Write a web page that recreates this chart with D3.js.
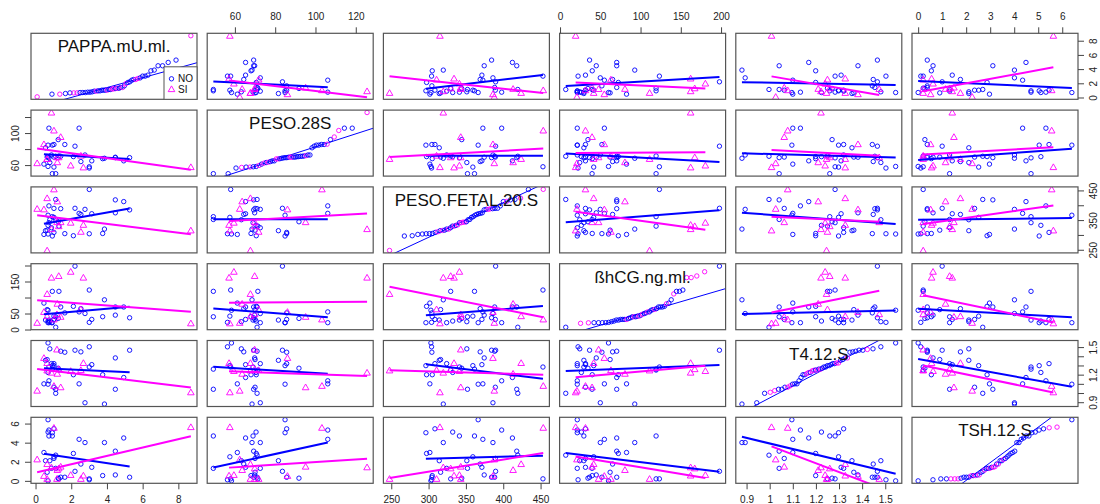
<!DOCTYPE html>
<html><head><meta charset="utf-8">
<script src="https://cdn.jsdelivr.net/npm/d3@7"></script>
<style>body{margin:0;background:#fff;} svg{display:block;font-family:"Liberation Sans",Arial,sans-serif;}</style>
</head><body><svg id="c" width="1100" height="504"></svg>
<script>
const varNames = ["PAPPA.mU.ml.","PESO.28S","PESO.FETAL.20.S","ßhCG.ng.ml.","T4.12.S","TSH.12.S"];
const groupLevels = ["NO","SI"];
const group = ["NO","NO","NO","NO","NO","NO","NO","NO","NO","NO","NO","NO","NO","NO","NO","NO","NO","NO","NO","NO","NO","NO","NO","NO","NO","NO","NO","NO","NO","NO","NO","NO","NO","NO","NO",
  "SI","SI","SI","SI","SI","SI","SI","SI","SI","SI","SI","SI","SI","SI"];
const pappa = [0.94,2.12,0.47,0.70,3.01,1.64,3.76,1.03,0.56,0.65,3.86,0.89,1.31,0.70,0.75,1.27,0.80,1.13,1.03,0.94,0.70,2.54,3.15,2.44,4.47,5.27,2.77,1.41,1.03,2.21,0.75,4.94,4.47,1.13,3.01,
  0.65,2.54,8.70,0.89,1.30,2.68,1.97,1.41,1.20,0.47,0.09,1.22,0.65,1.03];
const peso28 = [84.9,70.6,61.2,58.3,56.3,85.7,68.0,85.7,81.6,70.0,68.5,72.6,71.4,70.5,69.0,91.8,63.2,49.3,57.5,49.3,84.9,64.4,65.3,106.1,69.8,69.3,72.6,71.0,70.0,83.6,106.1,65.3,69.3,71.0,57.9,
  67.7,71.8,57.5,125.6,69.8,57.1,59.5,95.1,69.8,86.1,62.4,63.6,67.7,103.2];
const pesoFetal = [296.4,297.3,301.7,303.1,304.0,304.4,304.9,308.5,314.3,316.1,319.7,324.2,329.6,332.3,341.3,344.4,351.2,352.1,359.3,361.5,366.4,369.1,371.4,372.7,374.5,384.4,386.2,388.5,389.4,389.8,397.9,412.3,418.1,419.5,453.2,
  247.7,310.7,315.2,319.7,329.6,334.1,341.3,343.1,343.1,386.2,388.0,413.2,424.0,453.6];
const hcg = [21.4,72.4,82.6,60.2,22.4,52.0,40.0,31.6,29.6,62.2,92.8,21.4,119.3,26.5,29.6,34.7,24.5,39.8,41.8,119.3,21.4,65.3,31.6,55.1,45.0,36.7,50.0,70.4,31.6,198.0,21.4,70.4,70.4,7.1,123.4,
  111.2,63.2,19.4,162.2,167.3,162.2,180.5,39.8,47.9,55.0,21.0,80.6,41.8,31.6];
const t4 = [1.298,1.199,1.100,1.545,1.503,1.444,1.199,1.320,1.356,1.364,0.880,1.320,1.250,1.224,1.283,1.270,1.481,1.041,1.298,1.260,1.096,1.448,1.309,1.100,1.382,1.466,0.894,1.455,1.063,1.466,1.133,1.169,1.041,0.997,1.283,
  1.246,1.250,1.008,1.222,1.260,1.327,1.240,1.063,1.474,1.382,1.026,1.210,1.327,1.078];
const tsh = [5.04,2.87,2.97,0.00,0.11,0.38,0.55,5.45,2.11,0.90,4.01,1.31,0.21,5.11,4.70,0.28,2.11,1.31,2.52,4.70,6.40,1.76,1.42,4.35,0.62,0.38,4.01,0.38,2.35,1.00,5.32,4.49,3.11,2.69,0.21,
  0.21,0.21,5.63,1.42,1.31,0.56,0.62,1.49,0.21,0.52,2.25,1.14,1.76,5.56];

// axis ticks (value) and which are labelled
const topTicksPeso28 = [60,80,100,120];
const topTicksHcg = [0,50,100,150,200];
const topTicksTsh = [0,1,2,3,4,5,6];
const bottomTicksPappa = [0,2,4,6,8];
const bottomTicksPesoFetal = [250,300,350,400,450];
const bottomTicksT4 = [0.9,1.0,1.1,1.2,1.3,1.4,1.5];
const rightTicksPappa = [0,2,4,6,8];
const rightLabelsPappa = [0,2,4,6,8];
const rightTicksPesoFetal = [250,300,350,400,450];
const rightLabelsPesoFetal = [250,350,450];
const rightTicksT4 = [0.9,1.0,1.1,1.2,1.3,1.4,1.5];
const rightLabelsT4 = [0.9,1.2,1.5];
const leftTicksPeso28 = [60,80,100,120];
const leftLabelsPeso28 = [60,100];
const leftTicksHcg = [0,50,100,150,200];
const leftLabelsHcg = [0,50,150];
const leftTicksTsh = [0,2,4,6];
const leftLabelsTsh = [0,2,4,6];

const colors = {NO:"#0000FF", SI:"#FF00FF"};

const vars = [pappa, peso28, pesoFetal, hcg, t4, tsh];
const n = group.length;
const L0 = 31, PX = 176.2, W = 166, T0 = 33.3, PY = 76.8, H = 66;
function ext(a){const mn=d3.min(a), mx=d3.max(a), p=(mx-mn)*0.04; return [mn-p, mx+p];}
const xs = vars.map((v,j)=> d3.scaleLinear().domain(ext(v)).range([L0+j*PX, L0+j*PX+W]));
const ys = vars.map((v,i)=> d3.scaleLinear().domain(ext(v)).range([T0+i*PY+H, T0+i*PY]));

function qnorm(p){
 const a=[-3.969683028665376e+01,2.209460984245205e+02,-2.759285104469687e+02,1.383577518672690e+02,-3.066479806614716e+01,2.506628277459239e+00];
 const b=[-5.447609879822406e+01,1.615858368580409e+02,-1.556989798598866e+02,6.680131188771972e+01,-1.328068155288572e+01];
 const c=[-7.784894002430293e-03,-3.223964580411365e-01,-2.400758277161838e+00,-2.549732539343734e+00,4.374664141464968e+00,2.938163982698783e+00];
 const d=[7.784695709041462e-03,3.224671290700398e-01,2.445134137142996e+00,3.754408661907416e+00];
 const pl=0.02425, ph=1-pl; let q,r;
 if(p<pl){q=Math.sqrt(-2*Math.log(p));return (((((c[0]*q+c[1])*q+c[2])*q+c[3])*q+c[4])*q+c[5])/((((d[0]*q+d[1])*q+d[2])*q+d[3])*q+1);}
 if(p<=ph){q=p-0.5;r=q*q;return (((((a[0]*r+a[1])*r+a[2])*r+a[3])*r+a[4])*r+a[5])*q/(((((b[0]*r+b[1])*r+b[2])*r+b[3])*r+b[4])*r+1);}
 q=Math.sqrt(-2*Math.log(1-p));return -(((((c[0]*q+c[1])*q+c[2])*q+c[3])*q+c[4])*q+c[5])/((((d[0]*q+d[1])*q+d[2])*q+d[3])*q+1);
}
function fit(xv,yv){const mx=d3.mean(xv),my=d3.mean(yv);let sxy=0,sxx=0;for(let k=0;k<xv.length;k++){sxy+=(xv[k]-mx)*(yv[k]-my);sxx+=(xv[k]-mx)**2;}const b=sxy/sxx;return [my-b*mx,b];}

const svg = d3.select("#c");
const defs = svg.append("defs");
const tri = d3.symbol().type(d3.symbolTriangle).size(19);

function drawSym(g, x, y, grp, forceCircle){
  if(grp==="NO" || forceCircle){
    g.append("circle").attr("cx",x).attr("cy",y).attr("r",2.2).attr("fill","none").attr("stroke",colors[grp]).attr("stroke-width",0.9);
  } else {
    g.append("path").attr("d",tri()).attr("transform",`translate(${x},${y+0.6})`).attr("fill","none").attr("stroke",colors[grp]).attr("stroke-width",0.9);
  }
}

for(let i=0;i<6;i++){
  for(let j=0;j<6;j++){
    const px = L0+j*PX, py = T0+i*PY;
    const cid = `clip${i}${j}`;
    defs.append("clipPath").attr("id",cid).append("rect").attr("x",px).attr("y",py).attr("width",W).attr("height",H);
    const g = svg.append("g").attr("clip-path",`url(#${cid})`);
    if(i===j){
      const v = vars[i];
      const order = d3.range(n).sort((a,b)=>v[a]-v[b]);
      const theo = d3.range(n).map(k=>qnorm((k+1-0.5)/n));
      const xq = d3.scaleLinear().domain(ext(theo)).range([px, px+W]);
      const sorted = order.map(k=>v[k]);
      const q1 = d3.quantileSorted(sorted,0.25), q3 = d3.quantileSorted(sorted,0.75);
      const t1 = qnorm(0.25), t3 = qnorm(0.75);
      const slope = (q3-q1)/(t3-t1), icpt = q1 - slope*t1;
      const dx = xq.domain();
      g.append("line").attr("x1",xq(dx[0])).attr("y1",ys[i](icpt+slope*dx[0])).attr("x2",xq(dx[1])).attr("y2",ys[i](icpt+slope*dx[1]))
        .attr("stroke","#0000FF").attr("stroke-width",1);
      order.forEach((k,r)=> drawSym(g, xq(theo[r]), ys[i](v[k]), group[k], true));
      svg.append("text").attr("x",px+W/2).attr("y",py+13.5).attr("text-anchor","middle").attr("dominant-baseline","central")
        .attr("font-size",17).attr("fill","#111").text(varNames[i]);
    } else {
      const xv = vars[j], yv = vars[i];
      for(let k=0;k<n;k++) drawSym(g, xs[j](xv[k]), ys[i](yv[k]), group[k], false);
      groupLevels.forEach(gr=>{
        const idx = d3.range(n).filter(k=>group[k]===gr);
        const gx = idx.map(k=>xv[k]), gy = idx.map(k=>yv[k]);
        const [a,b] = fit(gx,gy);
        const x0 = d3.min(gx), x1 = d3.max(gx);
        g.append("line").attr("x1",xs[j](x0)).attr("y1",ys[i](a+b*x0)).attr("x2",xs[j](x1)).attr("y2",ys[i](a+b*x1))
          .attr("stroke",colors[gr]).attr("stroke-width",2);
      });
    }
    svg.append("rect").attr("x",px).attr("y",py).attr("width",W).attr("height",H).attr("fill","none").attr("stroke","#555").attr("stroke-width",1.2);
  }
}

// legend in first diagonal panel
(function(){
  const lx = L0+W-33, ly = T0+H-32.5;
  const lg = svg.append("g");
  lg.append("rect").attr("x",lx).attr("y",ly).attr("width",33).attr("height",32.5).attr("fill","#fff").attr("stroke","#555").attr("stroke-width",1);
  groupLevels.forEach((gr,r)=>{
    const yy = ly+12+r*10.3;
    drawSym(lg, lx+7.5, yy, gr, false);
    lg.append("text").attr("x",lx+14).attr("y",yy).attr("dy","0.35em").attr("font-size",10).attr("fill","#111").text(gr);
  });
})();

function styleAxis(ax){
  ax.select(".domain").remove();
  ax.attr("font-family",null).attr("font-size",null);
  ax.selectAll(".tick line").attr("stroke","#444");
  ax.selectAll(".tick text").attr("fill","#222").attr("font-size",10);
}
function fmt(labels){return d=> labels.some(l=>Math.abs(l-d)<1e-9) ? String(d) : "";}

const topSpec = [[1,topTicksPeso28],[3,topTicksHcg],[5,topTicksTsh]];
topSpec.forEach(([j,t])=>{
  const ax = svg.append("g").attr("transform",`translate(0,${T0})`).call(d3.axisTop(xs[j]).tickValues(t).tickSize(6).tickFormat(d=>String(d)));
  styleAxis(ax);
  ax.selectAll(".tick text").attr("y",-16.6).attr("dy","0.35em");
});
const bottomSpec = [[0,bottomTicksPappa],[2,bottomTicksPesoFetal],[4,bottomTicksT4]];
const yBottom = T0+5*PY+H;
bottomSpec.forEach(([j,t])=>{
  const ax = svg.append("g").attr("transform",`translate(0,${yBottom})`).call(d3.axisBottom(xs[j]).tickValues(t).tickSize(6).tickFormat(d=>d3.format("")(d)));
  styleAxis(ax);
  ax.selectAll(".tick text").attr("y",16).attr("dy","0.35em");
});
const rightSpec = [[0,rightTicksPappa,rightLabelsPappa],[2,rightTicksPesoFetal,rightLabelsPesoFetal],[4,rightTicksT4,rightLabelsT4]];
const xRight = L0+5*PX+W;
rightSpec.forEach(([i,t,l])=>{
  const ax = svg.append("g").attr("transform",`translate(${xRight},0)`).call(d3.axisRight(ys[i]).tickValues(t).tickSize(6).tickFormat(fmt(l)));
  styleAxis(ax);
  ax.selectAll(".tick text").attr("x",0).attr("dy",null).attr("transform","translate(15,0) rotate(-90)").attr("text-anchor","middle").attr("dominant-baseline","central");
});
const leftSpec = [[1,leftTicksPeso28,leftLabelsPeso28],[3,leftTicksHcg,leftLabelsHcg],[5,leftTicksTsh,leftLabelsTsh]];
leftSpec.forEach(([i,t,l])=>{
  const ax = svg.append("g").attr("transform",`translate(${L0},0)`).call(d3.axisLeft(ys[i]).tickValues(t).tickSize(6).tickFormat(fmt(l)));
  styleAxis(ax);
  ax.selectAll(".tick text").attr("x",0).attr("dy",null).attr("transform","translate(-16,0) rotate(-90)").attr("text-anchor","middle").attr("dominant-baseline","central");
});
</script></body></html>
